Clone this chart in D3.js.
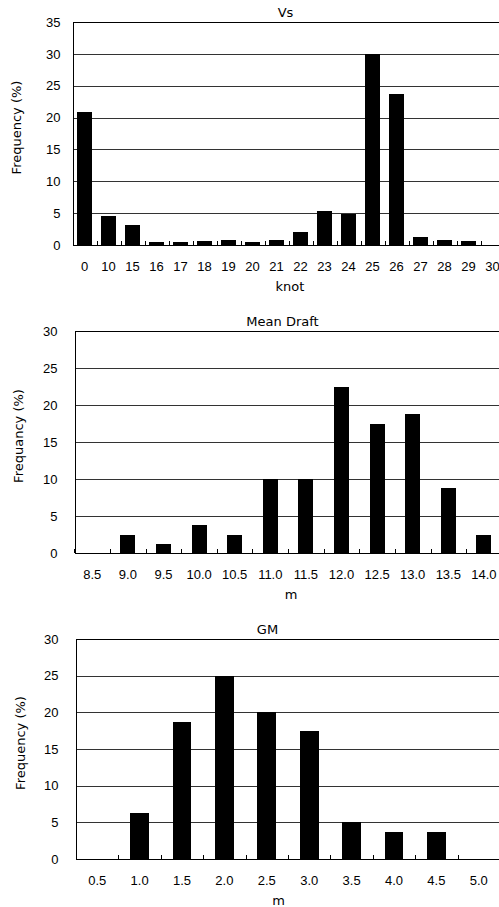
<!DOCTYPE html>
<html lang="en">

<head>
  <meta charset="UTF-8">
  <title>Frequency Histograms</title>
  <script src="https://d3js.org/d3.v7.min.js"></script>
  <style>
    body {
      margin: 0;
      padding: 0;
      background: #fff;
    }

    svg {
      display: block;
      font-family: "DejaVu Sans", sans-serif;
    }

    .tick text {
      font-size: 13px;
      fill: #000;
    }

    .label {
      font-size: 13px;
      fill: #000;
    }
  </style>
</head>

<body>
  <div id="chart"></div>

  <script>
    // Vs (knot)
    const vsCats = ["0", "10", "15", "16", "17", "18", "19", "20", "21", "22", "23", "24", "25", "26", "27", "28", "29", "30"];
    const vsValues = [20.9, 4.5, 3.2, 0.5, 0.5, 0.7, 0.8, 0.5, 0.8, 2.1, 5.3, 4.8, 29.9, 23.7, 1.3, 0.8, 0.7, 0];
    const vsTicks = [0, 5, 10, 15, 20, 25, 30, 35];

    // Mean Draft (m)
    const draftCats = ["8.5", "9.0", "9.5", "10.0", "10.5", "11.0", "11.5", "12.0", "12.5", "13.0", "13.5", "14.0"];
    const draftValues = [0, 2.5, 1.25, 3.75, 2.5, 10, 10, 22.5, 17.5, 18.75, 8.75, 2.5];

    // GM (m)
    const gmCats = ["0.5", "1.0", "1.5", "2.0", "2.5", "3.0", "3.5", "4.0", "4.5", "5.0"];
    const gmValues = [0, 6.25, 18.75, 25, 20, 17.5, 5, 3.75, 3.75, 0];

    const freqTicks = [0, 5, 10, 15, 20, 25, 30];

    const svg = d3.select("#chart").append("svg")
      .attr("width", 499)
      .attr("height", 907);

    function drawChart(opt) {
      const g = svg.append("g");
      const h = opt.bottom - opt.top;

      const x = d3.scaleBand()
        .domain(opt.cats)
        .range([opt.left, opt.right])
        .padding(0);

      const y = d3.scaleLinear()
        .domain([0, d3.max(opt.ticks)])
        .range([opt.bottom, opt.top]);

      // gridlines + y labels
      const yAxis = g.append("g")
        .attr("transform", `translate(${opt.left},0)`)
        .call(d3.axisLeft(y)
          .tickValues(opt.ticks)
          .tickSize(-(opt.right - opt.left))
          .tickPadding(opt.yGap));
      yAxis.select(".domain").remove();
      yAxis.selectAll(".tick line")
        .attr("stroke", d => d === d3.max(opt.ticks) || d === 0 ? "#000" : "#333")
        .attr("shape-rendering", "crispEdges");
      yAxis.selectAll(".tick text").attr("font-family", null).attr("font-size", null);

      // left axis line
      g.append("line")
        .attr("x1", opt.left + 0.5).attr("x2", opt.left + 0.5)
        .attr("y1", opt.top).attr("y2", opt.bottom)
        .attr("stroke", "#000")
        .attr("shape-rendering", "crispEdges");

      // bars
      const bw = x.bandwidth() * opt.barFrac;
      g.selectAll(".bar")
        .data(opt.values)
        .enter().append("rect")
        .attr("class", "bar")
        .attr("x", (d, i) => x(opt.cats[i]) + (x.bandwidth() - bw) / 2)
        .attr("y", d => y(d))
        .attr("width", bw)
        .attr("height", d => y(0) - y(d))
        .attr("fill", "#000")
        .attr("shape-rendering", "crispEdges");

      // category labels
      const xAxis = g.append("g")
        .attr("transform", `translate(0,${opt.bottom})`)
        .call(d3.axisBottom(x).tickSize(0).tickPadding(opt.xPad));
      xAxis.select(".domain").remove();
      xAxis.selectAll(".tick text").attr("font-family", null).attr("font-size", null);

      // x axis line and inside ticks at category boundaries
      g.append("line")
        .attr("x1", opt.left).attr("x2", opt.right)
        .attr("y1", opt.bottom + 0.5).attr("y2", opt.bottom + 0.5)
        .attr("stroke", "#000")
        .attr("shape-rendering", "crispEdges");

      const bounds = opt.cats.map(c => x(c)).concat([opt.right]);
      g.selectAll(".xtick")
        .data(bounds)
        .enter().append("line")
        .attr("class", "xtick")
        .attr("x1", d => Math.round(d) + 0.5).attr("x2", d => Math.round(d) + 0.5)
        .attr("y1", opt.bottom).attr("y2", opt.bottom - 4)
        .attr("stroke", "#000")
        .attr("shape-rendering", "crispEdges");

      // title
      g.append("text")
        .attr("class", "label")
        .attr("x", opt.titleX)
        .attr("y", opt.top - 5.5)
        .attr("text-anchor", "middle")
        .text(opt.title);

      // x title
      g.append("text")
        .attr("class", "label")
        .attr("x", opt.xTitleX)
        .attr("y", opt.bottom + 46)
        .attr("text-anchor", "middle")
        .text(opt.xTitle);

      // y title
      g.append("text")
        .attr("class", "label")
        .attr("transform", `translate(${opt.left - 51.5},${opt.top + h / 2 - 6}) rotate(-90)`)
        .attr("text-anchor", "middle")
        .text(opt.yTitle);
    }

    drawChart({
      cats: vsCats, values: vsValues, ticks: vsTicks,
      left: 72.5, right: 504.5, top: 22, bottom: 245,
      barFrac: 0.6, yGap: 12, xPad: 17,
      title: "Vs", titleX: 285.5, xTitle: "knot", xTitleX: 290,
      yTitle: "Frequency (%)"
    });

    drawChart({
      cats: draftCats, values: draftValues, ticks: freqTicks,
      left: 74.5, right: 501.7, top: 331, bottom: 553,
      barFrac: 0.42, yGap: 17, xPad: 17,
      title: "Mean Draft", titleX: 282.5, xTitle: "m", xTitleX: 291,
      yTitle: "Frequancy (%)"
    });

    drawChart({
      cats: gmCats, values: gmValues, ticks: freqTicks,
      left: 76, right: 500, top: 639, bottom: 859,
      barFrac: 0.44, yGap: 17.5, xPad: 17,
      title: "GM", titleX: 267.5, xTitle: "m", xTitleX: 278.7,
      yTitle: "Frequency (%)"
    });
  </script>
</body>

</html>
